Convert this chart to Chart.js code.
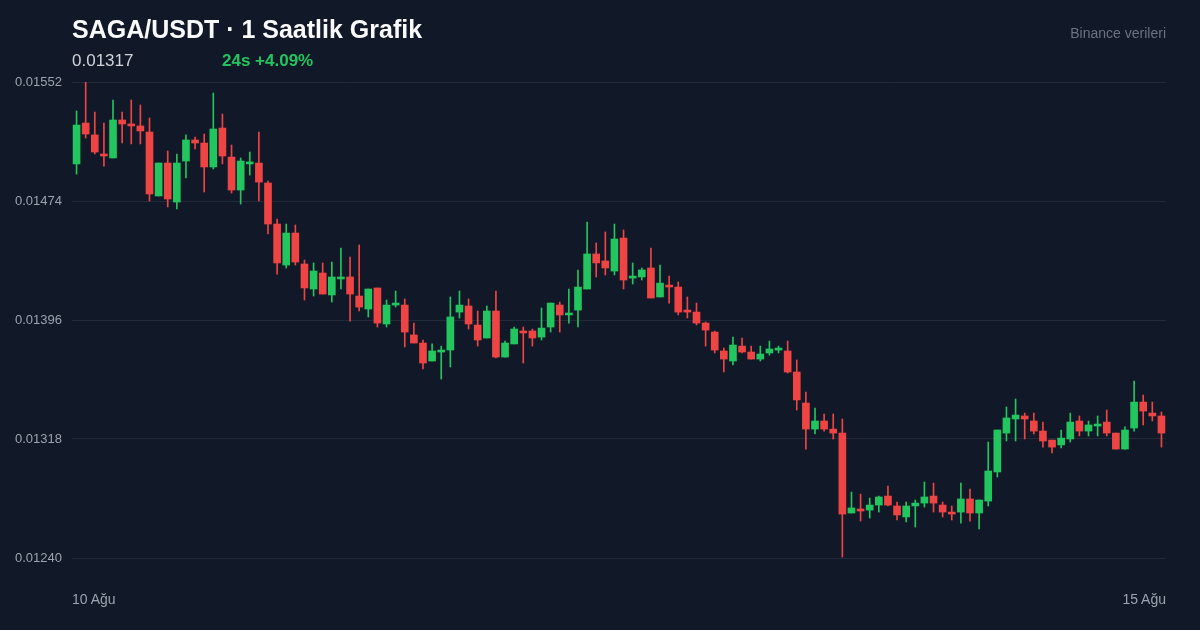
<!DOCTYPE html>
<html><head><meta charset="utf-8">
<script src="https://cdn.jsdelivr.net/npm/chart.js@4"></script>
<style>
html,body{margin:0;padding:0;background:#111827;width:1200px;height:630px;overflow:hidden;font-family:"Liberation Sans",Arial,sans-serif}
#wrap{position:absolute;left:0;top:0;width:1200px;height:630px}
.t{position:absolute;white-space:nowrap}
</style></head><body>
<div id="wrap"><canvas id="c" width="1200" height="630"></canvas></div>
<div class="t" style="left:72px;top:15px;font-size:25px;font-weight:bold;color:#f9fafb">SAGA/USDT · 1 Saatlik Grafik</div>
<div class="t" style="left:72px;top:51px;font-size:17px;color:#d1d5db">0.01317</div>
<div class="t" style="left:222px;top:51px;font-size:17px;font-weight:bold;color:#22c55e">24s +4.09%</div>
<div class="t" style="right:34px;top:25px;font-size:14px;color:#6b7280">Binance verileri</div>
<div class="t" style="left:72px;top:591px;font-size:14px;color:#9ca3af">10 Ağu</div>
<div class="t" style="right:34px;top:591px;font-size:14px;color:#9ca3af">15 Ağu</div>
<script>
const opens=[0.014983,0.015251,0.015173,0.015048,0.015022,0.015271,0.015238,0.015232,0.015192,0.014773,
0.014989,0.014733,0.015002,0.015140,0.015120,0.014963,0.015218,0.015028,0.014812,0.014983,
0.014989,0.014858,0.014589,0.014320,0.014530,0.014327,0.014163,0.014268,0.014124,0.014229,
0.014242,0.014117,0.014032,0.014170,0.013934,0.014058,0.014058,0.013862,0.013809,0.013691,
0.013750,0.013763,0.014012,0.014052,0.013927,0.013842,0.014019,0.013717,0.013803,0.013888,
0.013888,0.013848,0.013914,0.014058,0.013993,0.014025,0.014163,0.014393,0.014347,0.014281,
0.014497,0.014235,0.014242,0.014301,0.014111,0.014189,0.014176,0.014019,0.014012,0.013940,
0.013881,0.013757,0.013691,0.013789,0.013750,0.013704,0.013744,0.013763,0.013757,0.013619,
0.013416,0.013245,0.013298,0.013245,0.013219,0.012695,0.012721,0.012714,0.012747,0.012806,
0.012741,0.012669,0.012741,0.012760,0.012806,0.012747,0.012701,0.012701,0.012787,0.012695,
0.012773,0.012964,0.013219,0.013311,0.013331,0.013298,0.013232,0.013173,0.013141,0.013180,
0.013298,0.013232,0.013265,0.013291,0.013219,0.013114,0.013252,0.013422,0.013350,0.013331];
const closes=[0.015238,0.015179,0.015061,0.015035,0.015271,0.015245,0.015232,0.015199,0.014786,0.014989,
0.014753,0.014989,0.015140,0.015120,0.014963,0.015212,0.015035,0.014812,0.015002,0.014989,
0.014864,0.014589,0.014334,0.014530,0.014340,0.014170,0.014281,0.014130,0.014242,0.014242,
0.014130,0.014045,0.014163,0.013940,0.014058,0.014071,0.013881,0.013809,0.013678,0.013757,
0.013757,0.013980,0.014058,0.013934,0.013829,0.014019,0.013717,0.013809,0.013901,0.013875,
0.013842,0.013907,0.014071,0.013993,0.014006,0.014176,0.014393,0.014334,0.014301,0.014491,
0.014222,0.014248,0.014288,0.014104,0.014202,0.014176,0.014012,0.014012,0.013940,0.013894,
0.013763,0.013704,0.013796,0.013750,0.013704,0.013737,0.013770,0.013770,0.013619,0.013436,
0.013245,0.013298,0.013245,0.013219,0.012688,0.012728,0.012708,0.012747,0.012800,0.012747,
0.012682,0.012741,0.012760,0.012800,0.012760,0.012701,0.012688,0.012787,0.012695,0.012780,
0.012970,0.013239,0.013318,0.013337,0.013311,0.013232,0.013167,0.013127,0.013186,0.013291,
0.013232,0.013272,0.013278,0.013219,0.013114,0.013239,0.013422,0.013363,0.013331,0.013219];
const highs=[0.015330,0.015520,0.015323,0.015251,0.015402,0.015323,0.015402,0.015369,0.015284,0.014989,
0.015068,0.015048,0.015173,0.015159,0.015179,0.015448,0.015310,0.015107,0.015022,0.015061,
0.015192,0.014871,0.014622,0.014589,0.014583,0.014353,0.014334,0.014334,0.014340,0.014432,
0.014373,0.014452,0.014163,0.014170,0.014091,0.014150,0.014098,0.013940,0.013829,0.013803,
0.013789,0.014111,0.014150,0.014098,0.014019,0.014052,0.014150,0.013822,0.013914,0.013914,
0.013901,0.014039,0.014071,0.014078,0.014163,0.014288,0.014602,0.014465,0.014537,0.014589,
0.014550,0.014334,0.014301,0.014432,0.014320,0.014248,0.014209,0.014111,0.014071,0.013947,
0.013888,0.013776,0.013848,0.013842,0.013789,0.013789,0.013822,0.013789,0.013822,0.013698,
0.013488,0.013383,0.013344,0.013344,0.013311,0.012832,0.012819,0.012793,0.012806,0.012872,
0.012767,0.012767,0.012780,0.012898,0.012891,0.012767,0.012741,0.012891,0.012852,0.012780,
0.013160,0.013239,0.013390,0.013442,0.013350,0.013350,0.013291,0.013173,0.013239,0.013350,
0.013331,0.013298,0.013331,0.013370,0.013219,0.013259,0.013560,0.013468,0.013422,0.013357];
const lows=[0.014917,0.015153,0.015048,0.014969,0.015022,0.015120,0.015114,0.015114,0.014740,0.014773,
0.014701,0.014688,0.014891,0.015081,0.014799,0.014950,0.014983,0.014792,0.014720,0.014910,
0.014740,0.014524,0.014261,0.014301,0.014320,0.014091,0.014117,0.014130,0.014078,0.014163,
0.013953,0.014019,0.013980,0.013914,0.013914,0.014045,0.013783,0.013809,0.013639,0.013691,
0.013573,0.013652,0.013973,0.013901,0.013789,0.013842,0.013711,0.013717,0.013803,0.013678,
0.013789,0.013829,0.013881,0.013881,0.013940,0.013914,0.014163,0.014242,0.014255,0.014255,
0.014163,0.014196,0.014222,0.014104,0.014111,0.014071,0.013993,0.013973,0.013927,0.013789,
0.013744,0.013619,0.013665,0.013744,0.013704,0.013691,0.013730,0.013744,0.013612,0.013370,
0.013114,0.013213,0.013232,0.013180,0.012406,0.012695,0.012642,0.012662,0.012701,0.012741,
0.012649,0.012636,0.012603,0.012734,0.012701,0.012669,0.012649,0.012629,0.012642,0.012590,
0.012741,0.012931,0.013167,0.013167,0.013180,0.013213,0.013127,0.013088,0.013121,0.013160,
0.013200,0.013200,0.013200,0.013200,0.013114,0.013114,0.013232,0.013272,0.013298,0.013127];
const yTicks=[0.01240,0.01318,0.01396,0.01474,0.01552];
const categories=opens.map((_,i)=>'h'+i);

const UP='#22c55e', DOWN='#ef4444';
const cols=opens.map((o,i)=>closes[i]>=o?UP:DOWN);
new Chart(document.getElementById('c'),{
  type:'bar',
  data:{labels:categories,datasets:[
    {data:opens.map((o,i)=>[o,closes[i]]),backgroundColor:cols,barThickness:7,minBarLength:2,borderSkipped:false,grouped:false,order:1},
    {data:lows.map((l,i)=>[l,highs[i]]),backgroundColor:cols,barThickness:1,borderSkipped:false,grouped:false,order:2}
  ]},
  options:{responsive:false,animation:false,devicePixelRatio:1,
    layout:{padding:{top:82,bottom:72,right:34,left:0}},
    plugins:{legend:{display:false},tooltip:{enabled:false}},
    scales:{
      x:{display:false,offset:true},
      y:{min:0.01240,max:0.01552,
        afterBuildTicks:a=>{a.ticks=yTicks.map(v=>({value:v}));},
        afterFit:a=>{a.width=72;},
        grid:{color:'#222b3a',lineWidth:1,drawTicks:false},
        border:{display:false},
        ticks:{color:'#9ca3af',font:{size:13,family:'"Liberation Sans",Arial'},padding:10,callback:v=>v.toFixed(5)}
      }
    }
  }
});
</script>
</body></html>
